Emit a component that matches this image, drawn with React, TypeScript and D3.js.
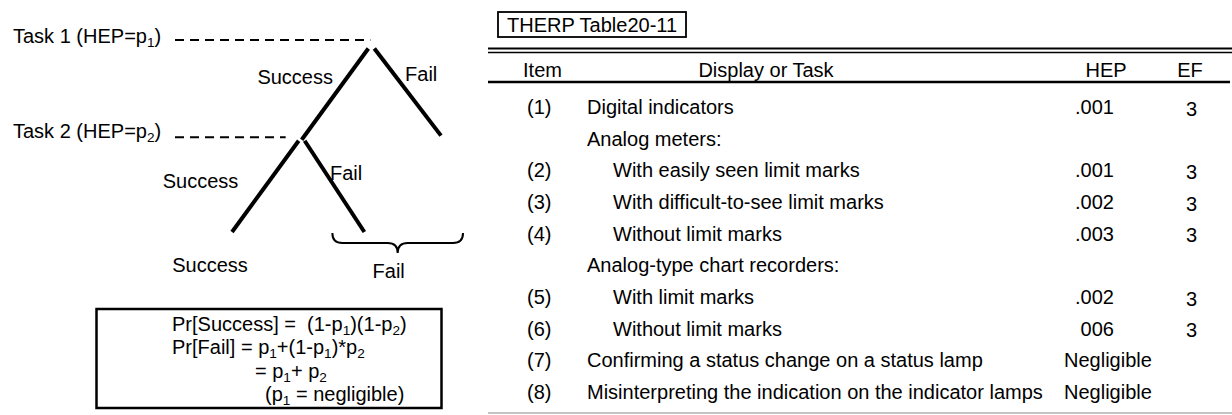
import React from "react";
import * as d3 from "d3";

// ---------- data ----------
const taskLabels = ["Task 1 (HEP=p_1)", "Task 2 (HEP=p_2)"];
const taskNodes: [number, number][] = [[0, 0], [-1, 1]];

const branchOutcomes = ["Success", "Fail", "Success", "Fail"];
const branchFrom: [number, number][] = [[0, 0], [0, 0], [-1, 1], [-1, 1]];
const branchTo: [number, number][] = [[-1, 1], [1, 0.955], [-2, 2], [-0.1, 2]];

const finalOutcomes = ["Success", "Fail"];

const formulaLines = [
  "Pr[Success] =  (1-p_1)(1-p_2)",
  "Pr[Fail] = p_1+(1-p_1)*p_2",
  "= p_1+ p_2",
  "(p_1 = negligible)",
];
const formulaIndent = [0, 0, 1, 2];

const tableTitle = "THERP Table20-11";
const headers = ["Item", "Display or Task", "HEP", "EF"];
const items = ["(1)", "", "(2)", "(3)", "(4)", "", "(5)", "(6)", "(7)", "(8)"];
const tasks = [
  "Digital indicators",
  "Analog meters:",
  "With easily seen limit marks",
  "With difficult-to-see limit marks",
  "Without limit marks",
  "Analog-type chart recorders:",
  "With limit marks",
  "Without limit marks",
  "Confirming a status change on a status lamp",
  "Misinterpreting the indication on the indicator lamps",
];
const taskIndent = [0, 0, 1, 1, 1, 0, 1, 1, 0, 0];
const hepValues = [".001", "", ".001", ".002", ".003", "", ".002", "006", "Negligible", "Negligible"];
const efValues = ["3", "", "3", "3", "3", "", "3", "3", "", ""];

// ---------- style ----------
const FONT = "Arial, 'Liberation Sans', sans-serif";
const FS = 20;

function Rich({ x, y, text, anchor = "start", size = FS }: { x: number; y: number; text: string; anchor?: string; size?: number }) {
  const parts = text.split(/_(\d)/);
  const out: React.ReactNode[] = [];
  parts.forEach((p, i) => {
    if (i % 2 === 1) {
      out.push(
        <tspan key={i} fontSize={size * 0.68} dy={4}>
          {p}
        </tspan>
      );
    } else if (i > 0) {
      out.push(
        <tspan key={i} dy={-4}>
          {p}
        </tspan>
      );
    } else {
      out.push(<tspan key={i}>{p}</tspan>);
    }
  });
  return (
    <text x={x} y={y} fontSize={size} textAnchor={anchor as any} fontFamily={FONT} fill="#000" style={{ whiteSpace: "pre" }}>
      {out}
    </text>
  );
}

export default function App() {
  const W = 1232;
  const H = 415;

  // tree scales
  const tx = d3.scaleLinear().domain([-2, 1]).range([232, 441]);
  const ty = d3.scaleLinear().domain([0, 2]).range([47.5, 232]);
  const startGap = 3;

  const branchGeom = branchOutcomes.map((o, i) => {
    const isFail = o === "Fail";
    const x1 = tx(branchFrom[i][0]) + (isFail ? startGap : -startGap);
    const y1 = ty(branchFrom[i][1]) + 1;
    const x2 = tx(branchTo[i][0]);
    const y2 = ty(branchTo[i][1]);
    return { o, x1, y1, x2, y2, mx: (x1 + x2) / 2, my: (y1 + y2) / 2 };
  });
  const labelOffsets: [number, number, string][] = [
    [-2, -10.5, "end"],
    [-2.6, -11, "start"],
    [-27, 2, "end"],
    [-4.5, -6, "start"],
  ];

  const dashEndOffsets = [1, 16];
  const dashYOffsets = [-7.5, -2.5];

  const succEnd = branchGeom[2];
  const failEndA = branchGeom[3];
  const failEndB = branchGeom[1];
  const braceL = failEndA.x2 - 32;
  const braceR = failEndB.x2 + 22;
  const braceTop = failEndA.y2 + 1;
  const braceMid = (braceL + braceR) / 2;
  const brace = d3.path();
  brace.moveTo(braceL, braceTop);
  brace.quadraticCurveTo(braceL, braceTop + 10, braceL + 10, braceTop + 10);
  brace.lineTo(braceMid - 10, braceTop + 10);
  brace.quadraticCurveTo(braceMid, braceTop + 10, braceMid, braceTop + 20);
  brace.quadraticCurveTo(braceMid, braceTop + 10, braceMid + 10, braceTop + 10);
  brace.lineTo(braceR - 10, braceTop + 10);
  brace.quadraticCurveTo(braceR, braceTop + 10, braceR, braceTop);

  // formula box
  const fy = d3.scaleLinear().domain([0, 3]).range([330.5, 401]);
  const fIndentX = [172, 255, 265];

  // table scales
  const ry = d3.scaleLinear().domain([0, tasks.length - 1]).range([114, 399]);
  const colItem = 527;
  const colTask = [587, 613];
  const colHep = 1075;
  const colHepWord = 1064;
  const colEf = 1191.5;
  const efDy = 1.5;
  const headerX = [542.5, 766, 1106, 1190];
  const dotW = 5.56;

  return (
    <svg width={W} height={H} style={{ position: "absolute", left: 0, top: 0, background: "#fff" }} fontFamily={FONT}>
      <rect x={0} y={0} width={W} height={H} fill="#fff" />
      {/* ----- event tree ----- */}
      {taskLabels.map((t, i) => {
        const nx = tx(taskNodes[i][0]);
        const ny = ty(taskNodes[i][1]);
        return (
          <g key={t}>
            <Rich x={13} y={ny - 5 + (i === 0 ? 0 : 3)} text={t} />
            <line x1={175} x2={nx - dashEndOffsets[i]} y1={ny + dashYOffsets[i]} y2={ny + dashYOffsets[i]} stroke="#000" strokeWidth={2} strokeDasharray="9 6" />
          </g>
        );
      })}
      {branchGeom.map((b, i) => (
        <g key={i}>
          <line x1={b.x1} y1={b.y1} x2={b.x2} y2={b.y2} stroke="#000" strokeWidth={4} />
          <text x={b.mx + labelOffsets[i][0]} y={b.my + labelOffsets[i][1]} textAnchor={labelOffsets[i][2] as any} fontSize={FS}>
            {b.o}
          </text>
        </g>
      ))}
      <path d={brace.toString()} fill="none" stroke="#000" strokeWidth={2} />
      <text x={succEnd.x2 - 22} y={succEnd.y2 + 40} textAnchor="middle" fontSize={FS}>
        {finalOutcomes[0]}
      </text>
      <text x={braceMid - 9} y={braceTop + 45} textAnchor="middle" fontSize={FS}>
        {finalOutcomes[1]}
      </text>

      {/* formula box */}
      <rect x={96.5} y={309} width={345} height={99} fill="none" stroke="#000" strokeWidth={2.5} />
      {formulaLines.map((l, i) => (
        <Rich key={i} x={fIndentX[formulaIndent[i]]} y={fy(i)} text={l} />
      ))}

      {/* ----- table ----- */}
      <rect x={498} y={12} width={188} height={25} fill="none" stroke="#000" strokeWidth={1.8} />
      <text x={507} y={32} fontSize={FS}>
        {tableTitle}
      </text>
      <line x1={488} x2={W} y1={48.5} y2={48.5} stroke="#000" strokeWidth={2} />
      <line x1={488} x2={W} y1={52.5} y2={52.5} stroke="#000" strokeWidth={1.5} />
      {headers.map((h, i) => (
        <text key={h} x={headerX[i]} y={77} textAnchor="middle" fontSize={FS}>
          {h}
        </text>
      ))}
      <line x1={488} x2={1230} y1={82} y2={82} stroke="#000" strokeWidth={2.5} />
      {tasks.map((t, i) => {
        const y = ry(i);
        const hv = hepValues[i];
        const isWord = /[A-Za-z]/.test(hv);
        const hx = isWord ? colHepWord : hv.startsWith("0") ? colHep + dotW : colHep;
        return (
          <g key={i} fontSize={FS}>
            {items[i] && <text x={colItem} y={y}>{items[i]}</text>}
            <text x={colTask[taskIndent[i]]} y={y}>
              {t}
            </text>
            {hv && <text x={hx} y={y}>{hv}</text>}
            {efValues[i] && (
              <text x={colEf} y={y + efDy} textAnchor="middle">
                {efValues[i]}
              </text>
            )}
          </g>
        );
      })}
      <line x1={488} x2={W} y1={413} y2={413} stroke="#c4c4c4" strokeWidth={2} />
    </svg>
  );
}
